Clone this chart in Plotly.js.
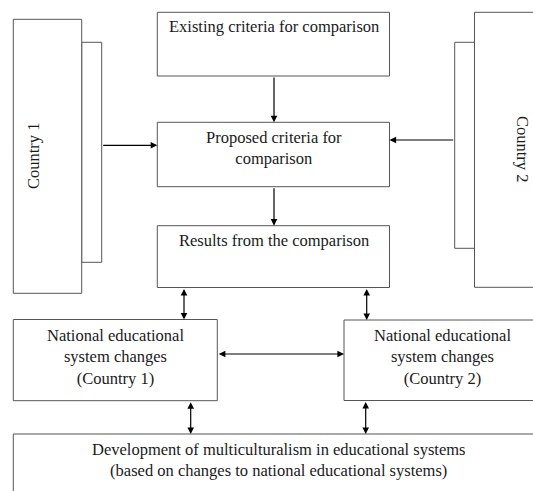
<!DOCTYPE html>
<html>
<head>
<meta charset="utf-8">
<script src="https://cdn.plot.ly/plotly-3.0.1.min.js"></script>
<style>html,body{margin:0;padding:0;background:#fff;}#chart{width:533px;height:491px;}</style>
</head>
<body>
<div id="chart"></div>
<script>
// Diagram content (labels)
var boxLabels = [
  "Existing criteria for comparison",
  "Proposed criteria for<br>comparison",
  "Results from the comparison",
  "National educational<br>system changes<br>(Country 1)",
  "National educational<br>system changes<br>(Country 2)",
  "Development of multiculturalism in educational systems<br>(based on changes to national educational systems)"
];
var sideLabels = ["Country 1", "Country 2"];

// Layout geometry (pixel-space coordinates of the diagram)
var boxGeom = [
  {x0:157.3, x1:389.5, y0:12.3,  y1:76,    tx:273.5, ty:26.5},
  {x0:157.3, x1:389.5, y0:122.3, y1:186.7, tx:273.5, ty:148.3},
  {x0:157.3, x1:389.5, y0:225.7, y1:287.5, tx:273.5, ty:240},
  {x0:13.3,  x1:217.3, y0:319.5, y1:400.7, tx:115.3, ty:357.2},
  {x0:344,   x1:541,   y0:320,   y1:400.5, tx:442.5, ty:357.2},
  {x0:13.3,  x1:543,   y0:434,   y1:530,   tx:278,   ty:460.3}
];
var sideGeom = [
  {outer:{x0:13.3, x1:81.7, y0:19.3, y1:293.3}, inner:{x0:81.7, x1:101.7, y0:42.3, y1:262.3}, tx:33.3, ty:155.7, ang:-90},
  {outer:{x0:474.5, x1:575, y0:12.3, y1:287.3}, inner:{x0:454.7, x1:474.5, y0:42.3, y1:248.3}, tx:523, ty:149, ang:90}
];
// arrows: [tailX, tailY, headX, headY, double]
var arrows = [
  [274, 76, 274, 122.3, false],
  [274, 186.7, 274, 225.7, false],
  [101.7, 145.3, 157.3, 145.3, false],
  [454.7, 140, 389.5, 140, false],
  [184, 287.5, 184, 319.5, true],
  [366.7, 287.5, 366.7, 320, true],
  [217.3, 354, 344, 354, true],
  [190.7, 400.7, 190.7, 434, true],
  [365.7, 400.5, 365.7, 434, true]
];

var lineStyle = {color:'#555', width:1};
function mkFont(){ return {family:'Liberation Serif, Times New Roman, serif', size:16.5, color:'#1a1a1a'}; }

var shapes = [];
function rect(g){
  shapes.push({type:'rect', xref:'x', yref:'y', x0:g.x0, x1:g.x1, y0:g.y0, y1:g.y1,
    line:{color:lineStyle.color, width:lineStyle.width}, fillcolor:'#ffffff', layer:'above'});
}
sideGeom.forEach(function(s){ rect(s.inner); rect(s.outer); });
boxGeom.forEach(function(g){ rect(g); });

var annotations = [];
boxLabels.forEach(function(t, i){
  var g = boxGeom[i];
  annotations.push({x:g.tx, y:g.ty, xref:'x', yref:'y', text:t, showarrow:false,
    font:mkFont(), align:'center', xanchor:'center', yanchor:'middle'});
});
sideLabels.forEach(function(t, i){
  var s = sideGeom[i];
  annotations.push({x:s.tx, y:s.ty, xref:'x', yref:'y', text:t, showarrow:false,
    font:mkFont(), textangle:s.ang, xanchor:'center', yanchor:'middle'});
});
arrows.forEach(function(a){
  var ann = {x:a[2], y:a[3], ax:a[0], ay:a[1], xref:'x', yref:'y', axref:'x', ayref:'y',
    text:'', showarrow:true, arrowhead:2, arrowsize:1.1, arrowwidth:1.2, arrowcolor:'#000',
    standoff:0, startstandoff:0};
  if (a[4]) { ann.arrowside = 'end+start'; ann.startarrowhead = 2; ann.startarrowsize = 1.1; }
  annotations.push(ann);
});

var layout = {
  width:533, height:491,
  margin:{l:0, r:0, t:0, b:0},
  font:mkFont(),
  paper_bgcolor:'#ffffff', plot_bgcolor:'#ffffff',
  xaxis:{range:[0,533], visible:false, fixedrange:true},
  yaxis:{range:[491,0], visible:false, fixedrange:true},
  shapes:shapes,
  annotations:annotations,
  showlegend:false
};
Plotly.newPlot('chart', [], layout, {displayModeBar:false, staticPlot:true});
</script>
</body>
</html>
